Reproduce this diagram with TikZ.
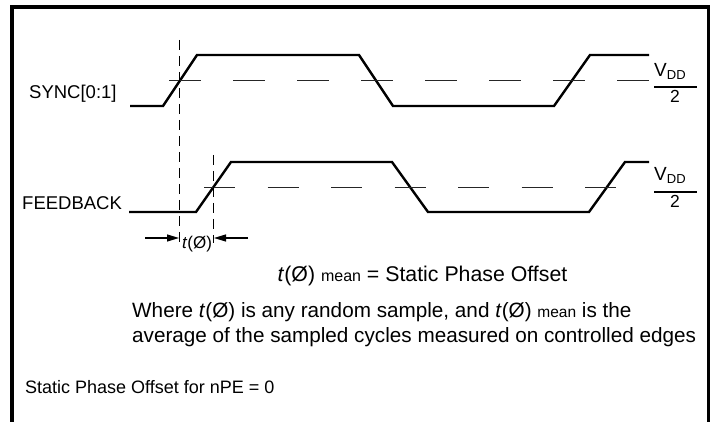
\documentclass[tikz,border=0pt]{standalone}
\usepackage{fontspec}
\setmainfont{Liberation Sans}
\usetikzlibrary{arrows.meta}
\begin{document}
\begin{tikzpicture}[x=1pt,y=-1pt,
  wave/.style={line width=2.4pt, line join=miter},
  thr/.style={line width=1.2pt, black!85},
  vline/.style={line width=1pt, dash pattern=on 10pt off 6pt},
  dimarrow/.style={line width=1.1pt, -{Triangle[length=12pt,width=7pt]}},
  lbl/.style={inner sep=0pt, font=\fontsize{18.5}{20}\selectfont},
  txt/.style={inner sep=0pt, font=\fontsize{20.7}{24}\selectfont},
  small/.style={inner sep=0pt, font=\fontsize{18}{20}\selectfont},
  vddv/.style={inner sep=0pt, font=\fontsize{19}{20}\selectfont},
  two/.style={inner sep=0pt, font=\fontsize{17.5}{20}\selectfont},
  bar/.style={line width=2.2pt},
  border/.style={line width=3.6pt, line join=miter}]
\useasboundingbox (0,0) rectangle (718,422);
\clip (0,0) rectangle (718,422);
% frame
\draw[border] (12,440) -- (12,7) -- (708.5,7) -- (708.5,440);
% labels
\node[lbl, anchor=base west] (sync) at (29,99) {SYNC[0:1]};
\node[lbl, anchor=base west] (fb) at (22,210) {FEEDBACK};
% SYNC waveform
\draw[wave] (130,106) -- (163,106) -- (197,55) -- (359,55) -- (393,106) -- (554,106) -- (590,55) -- (649,55);
\draw[thr, dash pattern=on 32pt off 32pt] (169,80.5) -- (649,80.5);
% FEEDBACK waveform
\draw[wave] (129,212) -- (196,212) -- (231,162) -- (392,162) -- (428,212) -- (589,212) -- (625,162) -- (649,162);
\draw[thr, dash pattern=on 31pt off 32.5pt] (204,187.5) -- (616,187.5);
% VDD/2 labels
\node[vddv, anchor=base west] (vdd1) at (654,77) {V{\fontsize{13}{13}\selectfont\raisebox{-3pt}{DD}}};
\draw[bar] (654,87) -- (697,87);
\node[two, anchor=base] (two1) at (675,103) {2};
\node[vddv, anchor=base west] (vdd2) at (654,181) {V{\fontsize{13}{13}\selectfont\raisebox{-3pt}{DD}}};
\draw[bar] (654,192) -- (697,192);
\node[two, anchor=base] (two2) at (675,208) {2};
% vertical markers
\draw[vline] (179.5,40) -- (179.5,243);
\draw[vline] (213.5,155) -- (213.5,243);
% dimension arrows
\coordinate (la) at (145,238);
\coordinate (lt) at (179,238);
\coordinate (ra) at (248,238);
\coordinate (rt) at (214,238);
\draw[dimarrow] (la) -- (lt);
\draw[dimarrow] (ra) -- (rt);
\node[inner sep=0pt, font=\fontsize{17}{18}\selectfont, anchor=base] (tphi) at (197,249) {\textit{t}(Ø)};
% text
\node[inner sep=0pt, font=\fontsize{21.3}{24}\selectfont, anchor=base] (def) at (422.5,282) {\textit{t}(Ø) {\fontsize{16}{18}\selectfont mean} = Static Phase Offset};
\node[txt, anchor=base west] (w1) at (132,318) {Where \textit{t}(Ø) is any random sample, and \textit{t}(Ø) {\fontsize{15.5}{18}\selectfont mean} is the};
\node[txt, anchor=base west] (w2) at (132,342) {average of the sampled cycles measured on controlled edges};
\node[small, anchor=base west] (foot) at (25,393) {Static Phase Offset for nPE = 0};
\end{tikzpicture}
\end{document}
